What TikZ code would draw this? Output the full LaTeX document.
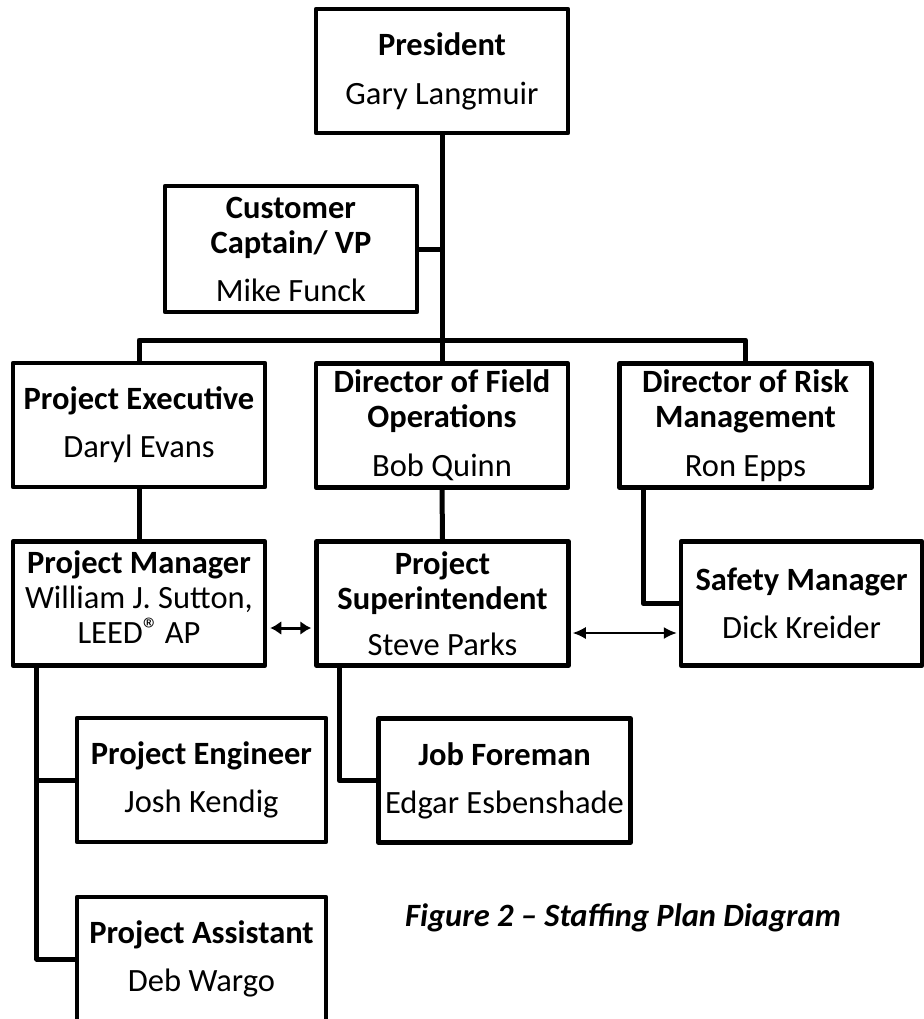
\documentclass[tikz,border=0pt]{standalone}
\usepackage{fontspec}
\setmainfont{Carlito}
\usetikzlibrary{arrows.meta}
\begin{document}
\begin{tikzpicture}[x=1pt,y=-1pt,
  box/.style={draw, line width=4.5pt, line join=round, fill=white,
    minimum width=252pt, minimum height=124pt, inner sep=0pt,
    align=center, font=\fontsize{32.5}{35}\selectfont},
  conn/.style={line width=5pt, line join=round},
  thinarrow/.style={line width=1.6pt, {Latex[length=13pt,width=12pt]}-{Latex[length=13pt,width=12pt]}},
  thickarrow/.style={line width=3pt, {Latex[length=11pt,width=14pt]}-{Latex[length=11pt,width=14pt]}},
  caption/.style={font=\fontsize{32.5}{35}\selectfont\bfseries\itshape, inner sep=0pt}
  ]
\useasboundingbox (0,0) rectangle (923,1019);

\node[box] (pres) at (442,71) {\textbf{President}\\[14pt]Gary Langmuir};
\node[box, minimum height=126pt] (cc) at (291,249) {\textbf{Customer}\\\textbf{Captain/ VP}\\[13pt]Mike Funck};
\node[box] (pe) at (139,425) {\textbf{Project Executive}\\[13pt]Daryl Evans};
\node[box] (dfo) at (442,425.5) {\textbf{Director of Field}\\\textbf{Operations}\\[14pt]Bob Quinn};
\node[box] (drm) at (745.5,425.5) {\textbf{Director of Risk}\\\textbf{Management}\\[14pt]Ron Epps};
\node[box] (pm) at (139,603.5) {\textbf{Project Manager}\\William J. Sutton,\\LEED\smash{\raisebox{3pt}{®}}\,AP\\[-22pt]\mbox{}};
\node[box] (ps) at (442.5,603.5) {\textbf{Project}\\\textbf{Superintendent}\\[11pt]Steve Parks};
\node[box, minimum width=241pt] (sm) at (801.5,603.5) {\textbf{Safety Manager}\\[13pt]Dick Kreider};
\node[box, minimum width=249pt] (peng) at (201.5,780) {\textbf{Project Engineer}\\[13pt]Josh Kendig};
\node[box] (jf) at (504.5,780.5) {\textbf{Job Foreman}\\[13pt]Edgar Esbenshade};
\node[box, minimum width=249pt] (pa) at (201.5,959) {\textbf{Project Assistant}\\[13pt]Deb Wargo};
\node[caption] (cap) at (623,918) {Figure 2 – Staffing Plan Diagram};

\coordinate (bus) at (442,340);

\draw[conn] (pres.south) -- (dfo.north);
\draw[conn] (cc.east) -- (cc.east -| pres.south);
\draw[conn] (pe.north) |- (bus) -| (drm.north);
\draw[conn] (pe.south) -- (pm.north);
\draw[conn] (dfo.south) -- (ps.north);
\draw[conn] ([xshift=26pt]drm.south west) |- (sm.west);
\draw[conn] ([xshift=26pt]pm.south west) |- (peng.west);
\draw[conn] ([xshift=26pt]pm.south west) |- (pa.west);
\draw[conn] ([xshift=25pt]ps.south west) |- (jf.west);
\draw[thickarrow] ([xshift=3pt,yshift=-24.5pt]pm.east) -- ([xshift=-3pt,yshift=-24.5pt]ps.west);
\draw[thinarrow] ([xshift=2pt,yshift=-29.5pt]ps.east) -- ([xshift=-2pt,yshift=-29.5pt]sm.west);
\end{tikzpicture}
\end{document}
